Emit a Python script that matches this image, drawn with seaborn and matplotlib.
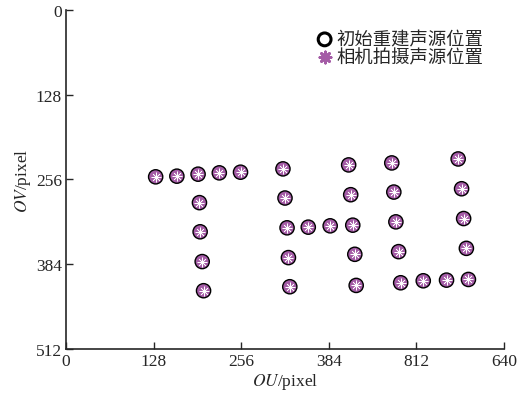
import numpy as np
import pandas as pd
import matplotlib
matplotlib.use("Agg")
import matplotlib.pyplot as plt
import seaborn as sns

# source positions (U, V in pixels), letters T, H, U
u_vals = [131, 162, 193, 224, 255,
          195, 196, 199, 201,
          317, 320, 323, 325, 327,
          354, 386,
          413, 416, 419, 422, 424,
          476, 479, 482, 486, 489,
          522, 556,
          573, 578, 581, 585, 588]
v_vals = [252, 251, 248, 246, 245,
          291, 335, 380, 424,
          240, 284, 329, 374, 418,
          328, 326,
          234, 279, 325, 369, 416,
          231, 275, 320, 365, 412,
          409, 408,
          225, 270, 315, 360, 407]

x_ticks = [0, 128, 256, 384, 512, 640]
x_tick_labels = ["0", "128", "256", "384", "812", "640"]
y_ticks = [0, 128, 256, 384, 512]

labels = ["初始重建声源位置", "相机拍摄声源位置"]

df = pd.DataFrame({"U": u_vals, "V": v_vals})

sns.set_style("ticks")
plt.rcParams["font.family"] = ["Liberation Serif", "Noto Sans CJK SC"]
plt.rcParams["mathtext.fontset"] = "stix"

fig = plt.figure(figsize=(5.18, 4.02), dpi=100)
ax = fig.add_axes([0.1274, 0.1294, 0.8456, 0.8433])

purple = "#a45ca6"
# purple disc underneath
sns.scatterplot(data=df, x="U", y="V", ax=ax, marker="o", s=105,
                color=purple, edgecolor="none", legend=False, zorder=2)
# white spokes
ax.scatter(df["U"], df["V"], marker=(8, 2, 0), s=45, c="white",
           linewidths=0.5, zorder=3)
# black reconstructed ring
sns.scatterplot(data=df, x="U", y="V", ax=ax, marker="o", s=105,
                facecolor="none", edgecolor="black", linewidth=1.0,
                label=labels[0], zorder=4)
# asterisk for legend entry (camera position)
ax.scatter([], [], marker=(8, 2, 0), s=80, c=purple, linewidths=2.0,
           label=labels[1])

ax.set_xlim(0, 640)
ax.set_ylim(512, 0)
ax.set_xticks(x_ticks)
ax.set_xticklabels(x_tick_labels)
ax.set_yticks(y_ticks)
ax.tick_params(direction="in", length=5, width=1, labelsize=12.5, pad=3)
for s in ["top", "right"]:
    ax.spines[s].set_visible(False)
for s in ["left", "bottom"]:
    ax.spines[s].set_linewidth(1.2)

ax.set_xlabel(r"$\mathit{OU}$/pixel", fontsize=12.5, labelpad=1)
ax.set_ylabel(r"$\mathit{OV}$/pixel", fontsize=12.5, labelpad=2)

leg = ax.legend(loc="upper right", bbox_to_anchor=(0.97, 0.962), frameon=False,
                prop={"family": ["Noto Sans CJK SC"], "size": 13.2},
                handletextpad=0.15, labelspacing=0.0, handlelength=1.0,
                borderaxespad=0, markerscale=0.9)
for h in leg.legend_handles[:1]:
    h.set_linewidth(2.2)

fig.savefig("out.png", dpi=100)
